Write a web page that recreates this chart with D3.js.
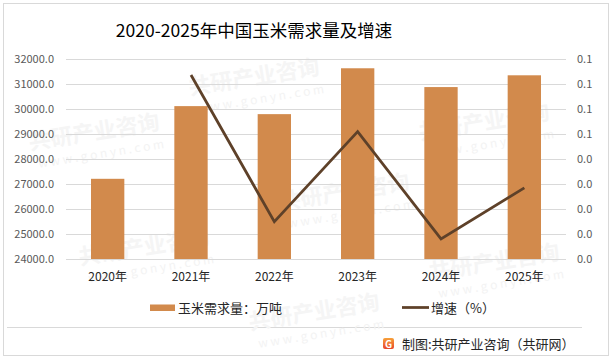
<!DOCTYPE html>
<html>
<head>
<meta charset="utf-8">
<script src="https://cdn.jsdelivr.net/npm/d3@7"></script>
<style>
  body { margin: 0; background: #fff; }
  text { font-family: "Noto Sans CJK SC", "Noto Sans", sans-serif; }
</style>
</head>
<body>
<div id="chart"></div>
<script>
// Chart data
var years = ["2020年", "2021年", "2022年", "2023年", "2024年", "2025年"];
var demand = [27200, 30100, 29780, 31610, 30860, 31330];
// growth starts at 2021, 2020 has no value
var growthYears = ["2021年", "2022年", "2023年", "2024年", "2025年"];
var growth = [0.0734, 0.0149, 0.0508, 0.0080, 0.0284];
var leftTicks = [24000, 25000, 26000, 27000, 28000, 29000, 30000, 31000, 32000];
var rightTicks = [0, 0.01, 0.02, 0.03, 0.04, 0.05, 0.06, 0.07, 0.08];

var width = 613;
var height = 363;
var barColor = "#D28A4C";
var lineColor = "#5E4129";

var svg = d3.select("#chart")
  .append("svg")
  .attr("width", width)
  .attr("height", height);

// outer frame and footer divider
svg.append("rect")
  .attr("x", 3.5).attr("y", 3.5)
  .attr("width", 605).attr("height", 352)
  .attr("fill", "none")
  .attr("stroke", "#d9d9d9");
svg.append("line")
  .attr("x1", 7).attr("x2", 582)
  .attr("y1", 327.5).attr("y2", 327.5)
  .attr("stroke", "#d9d9d9");

// faint watermarks behind everything, kept inside the frame
var marks = [[30, 150], [190, 95], [80, 265], [280, 210], [420, 140], [430, 280], [250, 330]];
var wm = svg.append("g");
marks.forEach(function(m) {
  var g = wm.append("g").attr("transform", "translate(" + m[0] + "," + m[1] + ")rotate(-9)");
  g.append("text").text("共研产业咨询")
    .attr("font-size", 22).attr("font-weight", "bold")
    .attr("fill", "#f5f5f5");
  g.append("text").text("w w w . g o n y n . c o m")
    .attr("y", 19).attr("x", 6)
    .attr("font-size", 12)
    .attr("fill", "#f3f3f3");
});

// Scales
var x = d3.scaleBand()
  .domain(years)
  .range([66, 566])
  .paddingInner(0.6)
  .paddingOuter(0.3);

var yLeft = d3.scaleLinear()
  .domain([24000, 32000])
  .range([259, 58.5]);

var yRight = d3.scaleLinear()
  .domain([0, 0.08])
  .range([259, 58.5]);

// gridlines
svg.append("g")
  .selectAll("line")
  .data(leftTicks)
  .enter()
  .append("line")
  .attr("x1", 66).attr("x2", 566)
  .attr("y1", function(d) { return Math.round(yLeft(d)) + 0.5; })
  .attr("y2", function(d) { return Math.round(yLeft(d)) + 0.5; })
  .attr("stroke", "#d9d9d9");

// left axis
var leftAxis = svg.append("g")
  .attr("transform", "translate(58,0)")
  .call(d3.axisLeft(yLeft).tickValues(leftTicks).tickSize(0).tickFormat(d3.format(".1f")));
leftAxis.select(".domain").remove();
leftAxis.selectAll("text")
  .attr("font-size", 11)
  .attr("fill", "#595959")
  .attr("x", -4);

// right axis
var rightAxis = svg.append("g")
  .attr("transform", "translate(574,0)")
  .call(d3.axisRight(yRight).tickValues(rightTicks).tickSize(0).tickFormat(d3.format(".1f")));
rightAxis.select(".domain").remove();
rightAxis.selectAll("text")
  .attr("font-size", 11)
  .attr("fill", "#595959")
  .attr("x", 3);

// bottom axis
var bottomAxis = svg.append("g")
  .attr("transform", "translate(0,259)")
  .call(d3.axisBottom(x).tickSize(0));
bottomAxis.select(".domain").remove();
bottomAxis.selectAll("text")
  .attr("font-size", 12)
  .attr("fill", "#262626")
  .attr("dy", "1.55em");

// bars
svg.append("g")
  .selectAll("rect")
  .data(demand)
  .enter()
  .append("rect")
  .attr("x", function(d, i) { return x(years[i]); })
  .attr("y", function(d) { return yLeft(d); })
  .attr("width", x.bandwidth())
  .attr("height", function(d) { return 259 - yLeft(d); })
  .attr("fill", barColor);

// growth line
var line = d3.line()
  .x(function(d, i) { return x(growthYears[i]) + x.bandwidth() / 2; })
  .y(function(d) { return yRight(d); });

svg.append("path")
  .datum(growth)
  .attr("d", line)
  .attr("fill", "none")
  .attr("stroke", lineColor)
  .attr("stroke-width", 2.75);

// title
svg.append("text")
  .attr("x", 254).attr("y", 37)
  .attr("text-anchor", "middle")
  .attr("font-size", 17.5)
  .attr("fill", "#000")
  .text("2020-2025年中国玉米需求量及增速");

// legend
var legend = svg.append("g");
legend.append("rect")
  .attr("x", 150).attr("y", 304.5)
  .attr("width", 25).attr("height", 6.5)
  .attr("fill", barColor);
legend.append("text")
  .attr("x", 178).attr("y", 312.5)
  .attr("font-size", 13)
  .attr("fill", "#262626")
  .text("玉米需求量：万吨");
legend.append("line")
  .attr("x1", 402).attr("x2", 429)
  .attr("y1", 307.5).attr("y2", 307.5)
  .attr("stroke", lineColor)
  .attr("stroke-width", 2.75);
legend.append("text")
  .attr("x", 431).attr("y", 312.5)
  .attr("font-size", 13)
  .attr("fill", "#262626")
  .text("增速（%）");

// footer with logo
var grad = svg.append("defs").append("linearGradient")
  .attr("id", "logoGrad")
  .attr("x1", 0).attr("y1", 0).attr("x2", 0).attr("y2", 1);
grad.append("stop").attr("offset", "0%").attr("stop-color", "#F7A23A");
grad.append("stop").attr("offset", "100%").attr("stop-color", "#E8452C");
svg.append("rect")
  .attr("x", 383).attr("y", 338)
  .attr("width", 11).attr("height", 11)
  .attr("rx", 2)
  .attr("fill", "url(#logoGrad)");
svg.append("text")
  .attr("x", 388.5).attr("y", 347.5)
  .attr("text-anchor", "middle")
  .attr("font-size", 10)
  .attr("font-weight", "bold")
  .attr("fill", "#fff")
  .text("G");
svg.append("text")
  .attr("x", 402).attr("y", 349)
  .attr("font-size", 13)
  .attr("fill", "#262626")
  .text("制图:共研产业咨询（共研网）");
</script>
</body>
</html>
